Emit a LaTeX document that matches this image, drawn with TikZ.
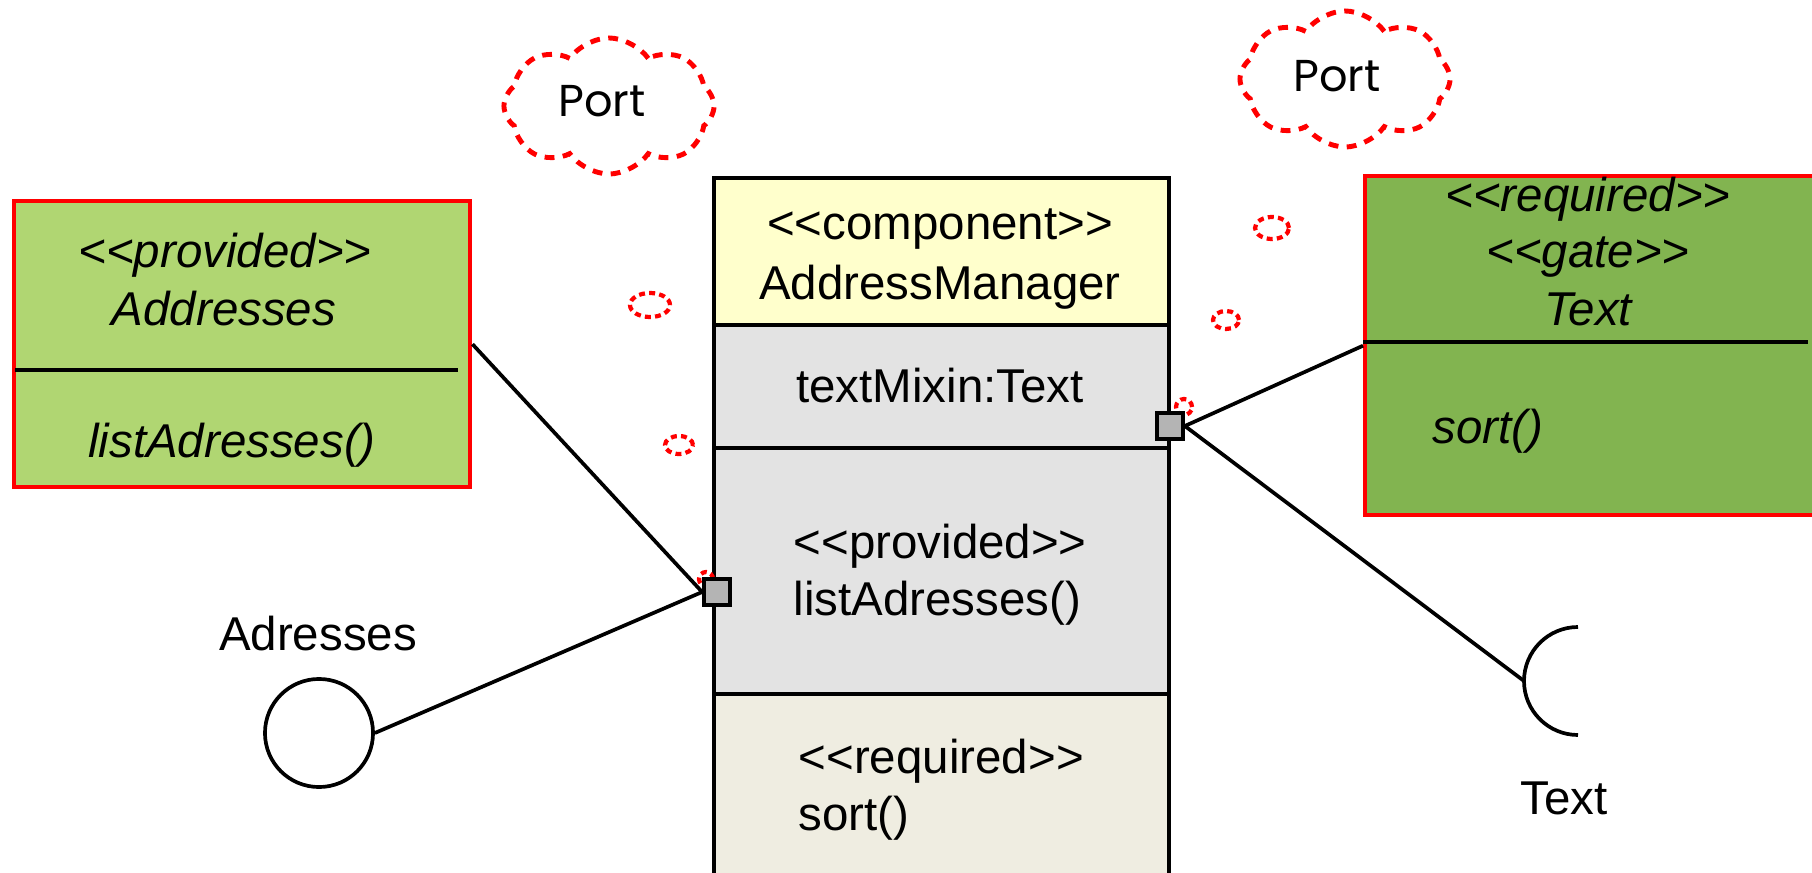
\documentclass[tikz,border=0pt]{standalone}
\usepackage{fontspec}
\setmainfont{Liberation Sans}
\newfontfamily\portfont{Poppins}
\usepackage{xcolor}
\usetikzlibrary{shapes.geometric, shapes.symbols, positioning}

\definecolor{headyellow}{HTML}{FFFFCC}
\definecolor{partgray}{HTML}{E3E3E3}
\definecolor{reqbeige}{HTML}{EFEDE1}
\definecolor{provgreen}{HTML}{B0D672}
\definecolor{gategreen}{HTML}{82B450}
\definecolor{portgray}{HTML}{B4B4B4}

\begin{document}
\begin{tikzpicture}[
    x=0.01cm, y=-0.01cm,
    comp/.style={draw=black, line width=1.05pt, inner sep=0, anchor=north west},
    ibox/.style={draw=red, line width=1.2pt, inner sep=0, anchor=north west},
    txt/.style={font=\fontsize{13.5}{16.2}\selectfont, inner sep=0, anchor=base},
    itxt/.style={txt, font=\fontsize{13.5}{16.2}\selectfont\itshape},
    port/.style={draw, fill=portgray, line width=1.05pt, minimum size=0.26cm, inner sep=0},
    conn/.style={line width=1.05pt},
    thought/.style={cloud, cloud puffs=8, cloud puff arc=110, aspect=1.55, draw=red, line width=1.4pt,
        dash pattern=on 2.8pt off 2.4pt, minimum width=2.1cm, minimum height=1.36cm, inner sep=0},
    bubble/.style={ellipse, draw=red, line width=1.2pt, dash pattern=on 1.7pt off 1.2pt, inner sep=0},
    porttxt/.style={font=\portfont\fontsize{12.7}{15}\selectfont, inner sep=0, anchor=base}
]
\useasboundingbox (0,0) rectangle (1812,873);
\clip (0,0) rectangle (1812,873);

% Component with its compartments
\node[comp, fill=headyellow, minimum width=4.55cm, minimum height=1.47cm] (head) at (712,176) {};
\node[comp, fill=partgray, minimum width=4.55cm, minimum height=1.23cm] (mixin) at (712,323) {};
\node[comp, fill=partgray, minimum width=4.55cm, minimum height=2.46cm] (prov) at (712,446) {};
\node[comp, fill=reqbeige, minimum width=4.55cm, minimum height=2.2cm] (req) at (712,692) {};

\node[txt] (stereo) at (940,240) {<{}<component>{}>};
\node[txt] (cname) at (940,300) {AddressManager};
\node[txt] (mixtxt) at (940,402) {textMixin:Text};
\node[txt, anchor=base west] (provst) at (793,558) {<{}<provided>{}>};
\node[txt, anchor=base west] (provop) at (793,615) {listAdresses()};
\node[txt, anchor=base west] (reqst) at (798,773) {<{}<required>{}>};
\node[txt, anchor=base west] (reqop) at (798,830) {sort()};

% Interface boxes
\node[ibox, fill=provgreen, minimum width=4.56cm, minimum height=2.86cm] (abox) at (12,199) {};
\draw[conn] (15,370) -- (458,370);
\node[itxt] (ast) at (225,268) {<{}<provided>{}>};
\node[itxt] (aname) at (224,325) {Addresses};
\node[itxt] (aop) at (232,457) {listAdresses()};

\node[ibox, fill=gategreen, minimum width=4.7cm, minimum height=3.39cm] (tbox) at (1363,174) {};
\draw[conn] (1363,342) -- (1808,342);
\node[itxt] (tst) at (1588,212) {<{}<required>{}>};
\node[itxt] (tgate) at (1588,268) {<{}<gate>{}>};
\node[itxt] (tname) at (1588,325) {Text};
\node[itxt, anchor=base west] (top) at (1432,443) {sort()};

% Thought clouds
\node[thought] (cloudl) at (609,106) {};
\node[porttxt] (portl) at (602,117) {Port};
\node[bubble, minimum width=0.4cm, minimum height=0.24cm] (bl1) at (650,305) {};
\node[bubble, minimum width=0.28cm, minimum height=0.18cm] (bl2) at (679,445) {};
\node[bubble, minimum size=0.14cm] (bl3) at (706,579) {};

\node[thought] (cloudr) at (1345,79) {};
\node[porttxt] (portr) at (1337,92) {Port};
\node[bubble, minimum width=0.34cm, minimum height=0.22cm] (br1) at (1272,228) {};
\node[bubble, minimum width=0.26cm, minimum height=0.18cm] (br2) at (1226,320) {};
\node[bubble, minimum size=0.16cm] (br3) at (1184,407) {};

% Lollipop and socket
\node[circle, draw, line width=1.05pt, minimum size=1.08cm, inner sep=0] (lolli) at (319,733) {};
\node[txt] (lolllbl) at (318,650) {Adresses};
\coordinate (sock) at (1524,681);
\draw[conn] (sock) arc (180:90:54);
\draw[conn] (sock) arc (180:270:54);
\node[txt] (socklbl) at (1564,814) {Text};

% Ports
\node[port] (pleft) at (717,592) {};
\node[port] (pright) at (1170,426) {};

% Connectors
\draw[conn] (abox.east) -- (pleft.west);
\draw[conn] (lolli.east) -- (pleft.west);
\draw[conn] (pright.east) -- (tbox.west);
\draw[conn] (pright.east) -- (sock);

\end{tikzpicture}
\end{document}
